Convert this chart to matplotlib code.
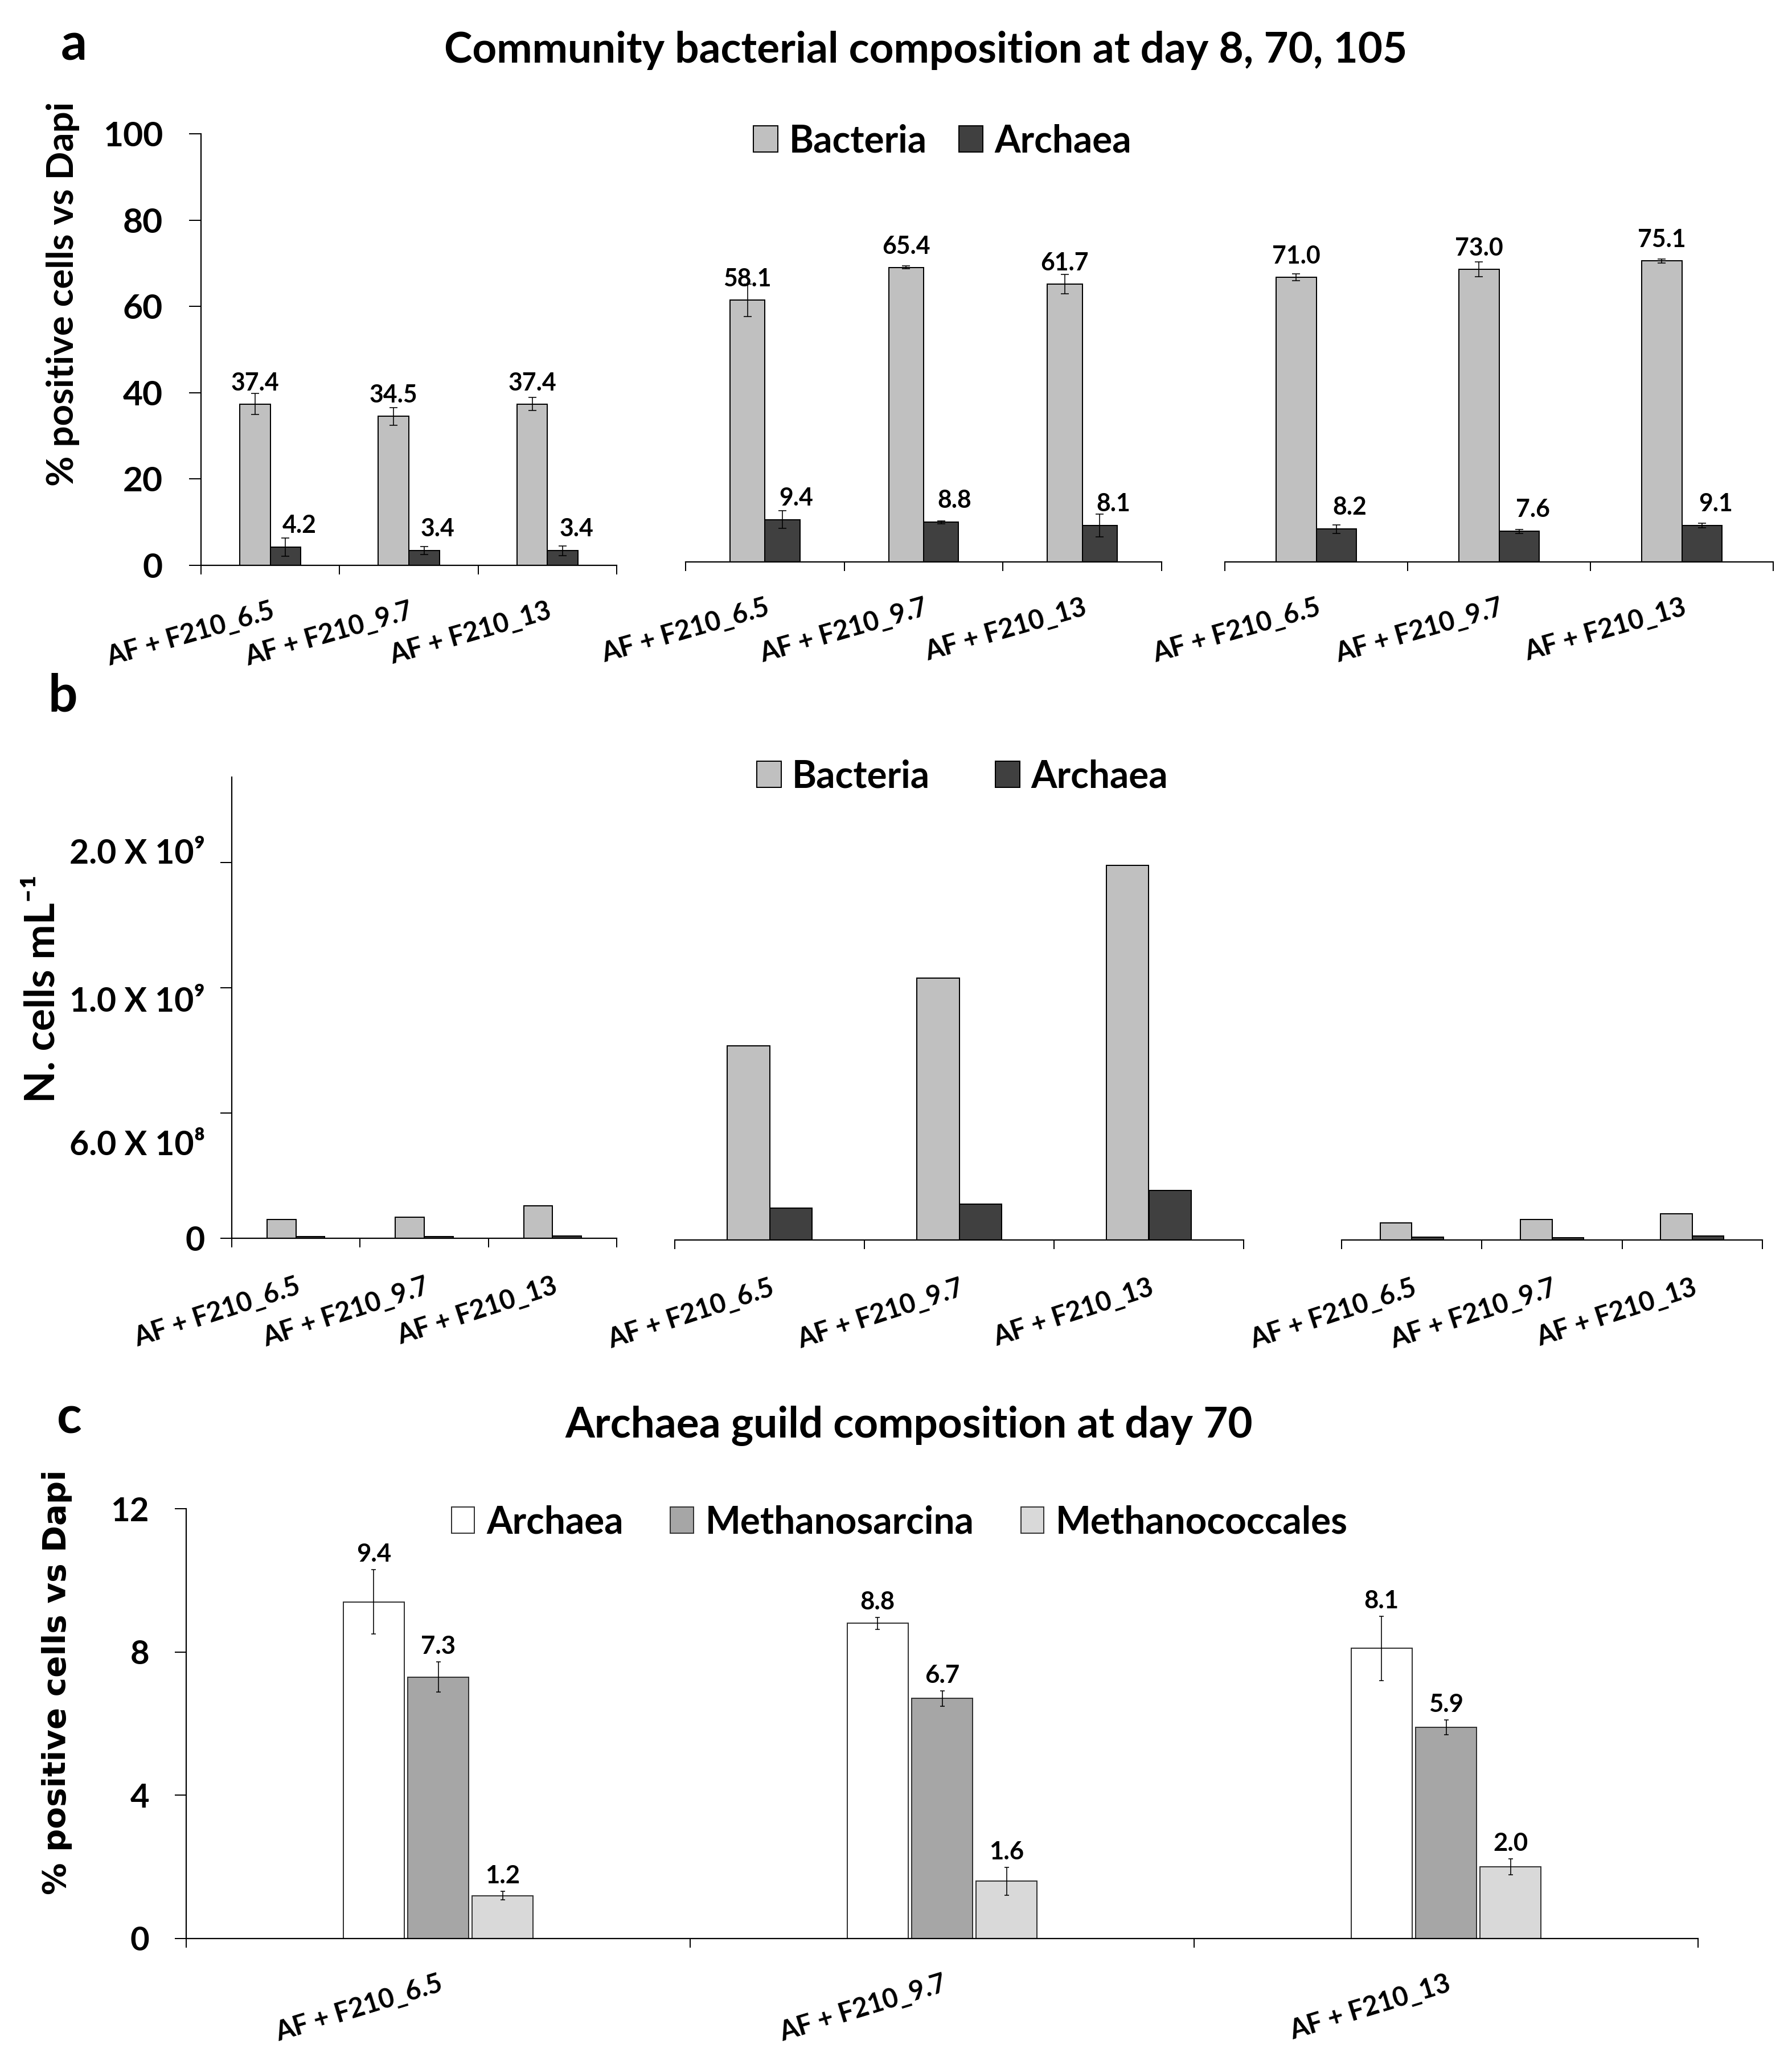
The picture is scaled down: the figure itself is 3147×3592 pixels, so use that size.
import matplotlib
matplotlib.use('Agg')
import matplotlib.pyplot as plt
import numpy as np
from matplotlib.patches import Patch
from matplotlib.transforms import ScaledTranslation

# ---------------- data ----------------
categories = ['AF + F210_6.5', 'AF + F210_9.7', 'AF + F210_13']

# panel a: % positive cells vs DAPI (day 8, 70, 105)
bact_d8 = [37.4, 34.5, 37.4]
bact_d70 = [58.1, 65.4, 61.7]
bact_d105 = [71.0, 73.0, 75.1]
arch_d8 = [4.2, 3.4, 3.4]
arch_d70 = [9.4, 8.8, 8.1]
arch_d105 = [8.2, 7.6, 9.1]
bact_err_d8 = [2.5, 2.0, 1.5]
bact_err_d70 = [3.6, 0.3, 2.2]
bact_err_d105 = [0.9, 1.9, 0.5]
arch_err_d8 = [2.1, 0.9, 1.1]
arch_err_d70 = [2.0, 0.3, 2.5]
arch_err_d105 = [1.1, 0.5, 0.6]

# panel b: N. cells per mL
bact_cells_d8 = [7.5e7, 8.4e7, 1.3e8]
bact_cells_d70 = [7.75e8, 1.045e9, 1.495e9]
bact_cells_d105 = [6.8e7, 8.2e7, 1.05e8]
arch_cells_d8 = [7e6, 7e6, 9e6]
arch_cells_d70 = [1.27e8, 1.43e8, 1.98e8]
arch_cells_d105 = [1.1e7, 9e6, 1.6e7]
cells_ticks = [0, 5e8, 1e9, 1.5e9]
cells_ticklabels = ['0', '6.0 X 10\u2078', '1.0 X 10\u2079', '2.0 X 10\u2079']

# panel c: archaea guild composition at day 70
guild_archaea = [9.4, 8.8, 8.1]
guild_msarcina = [7.3, 6.7, 5.9]
guild_mcoccales = [1.2, 1.6, 2.0]
guild_archaea_err = [0.9, 0.17, 0.9]
guild_msarcina_err = [0.42, 0.22, 0.21]
guild_mcoccales_err = [0.12, 0.39, 0.22]

# ---------------- style ----------------
W, H, DPI = 3147, 3592, 100
PT = 72.0 / DPI
BACT_C, ARCH_C = '#C0C0C0', '#404040'
C_ARCH, C_MSAR, C_MCOC = '#FFFFFF', '#A6A6A6', '#D9D9D9'
FAM = ['Lato', 'DejaVu Sans']
DJ = ['DejaVu Sans']

plt.rcParams['font.family'] = FAM
plt.rcParams['font.weight'] = 'bold'

fig = plt.figure(figsize=(W / DPI, H / DPI), dpi=DPI)
renderer = fig.canvas.get_renderer()


def fit(s, target, family=FAM, base=40.0):
    t = fig.text(0.5, 0.5, s, fontsize=base, family=list(family), fontweight='bold')
    w = t.get_window_extent(renderer=renderer).width
    t.remove()
    return base * target / w


def px_axes(left, right, bottom, top):
    return fig.add_axes([left / W, 1 - bottom / H, (right - left) / W, (bottom - top) / H])


fs_title = fit('Community bacterial composition at day 8, 70, 105', 1690)
fs_leg = fit('Archaea', 240)
fs_xt = fit('AF + F210_6.5', 290) * 1.05
fs_yt_a = fit('100', 100) * 1.05
fs_yt_b = fit('2.0 X 10', 202) * 1.08
fs_yt_c = fit('12', 64) * 1.05
fs_val_a = fit('37.4', 79) * 1.07
fs_val_c = fit('9.4', 57) * 1.07
fs_ylab_a = fit('% positive cells vs Dapi', 648) * 1.04
fs_ylab_b = fs_ylab_a * 1.12
fs_ylab_c = fit('% positive cells vs Dapi', 654, DJ) * 1.14
fs_letter = fit('a', 46)

x = np.arange(len(categories))


def style_axes(ax, rot, show_left, xpad):
    for s in ['top', 'right']:
        ax.spines[s].set_visible(False)
    ax.spines['left'].set_visible(show_left)
    for s in ['left', 'bottom']:
        ax.spines[s].set_linewidth(2.2 * PT)
    ax.set_xticks(x, categories, rotation=rot, ha='right', va='top',
                  rotation_mode='anchor', fontsize=fs_xt, fontweight='bold')
    ax.tick_params(axis='x', which='major', length=0, pad=xpad * PT)
    ax.set_xticks(np.arange(-0.5, len(categories) + 0.5, 1.0), minor=True)
    ax.tick_params(axis='x', which='minor', length=16 * PT, width=2 * PT, direction='out')
    if not show_left:
        ax.tick_params(axis='y', left=False, labelleft=False)


def pair(ax, b, a, w, be=None, ae=None, labels=False, cap=5):
    ekw = dict(elinewidth=1.6 * PT, capthick=1.6 * PT, ecolor='black')
    ax.bar(x - w / 2, b, w, color=BACT_C, edgecolor='black', linewidth=2 * PT,
           yerr=be, capsize=cap, error_kw=ekw, zorder=2)
    ax.bar(x + w / 2, a, w, color=ARCH_C, edgecolor='black', linewidth=2 * PT,
           yerr=ae, capsize=cap, error_kw=ekw, zorder=2)
    if labels:
        for xi, v in zip(x - w / 2, b):
            ax.annotate(f'{v:.1f}', (xi, v), xytext=(0, 37 * PT), textcoords='offset points',
                        ha='center', va='center', fontsize=fs_val_a, fontweight='bold')
        for xi, v in zip(x + w / 2, a):
            ax.annotate(f'{v:.1f}', (xi, v), xytext=(24 * PT, 38 * PT), textcoords='offset points',
                        ha='center', va='center', fontsize=fs_val_a, fontweight='bold')


# ---------------- panel a ----------------
wa = 0.22
a1 = px_axes(353, 1083, 993, 235)
a2 = px_axes(1204, 2040, 987, 987 - 791)
a3 = px_axes(2151, 3114, 987, 987 - 704)
for ax, b, a, be, ae, xr in [(a1, bact_d8, arch_d8, bact_err_d8, arch_err_d8, 2.308),
                             (a2, bact_d70, arch_d70, bact_err_d70, arch_err_d70, 2.353),
                             (a3, bact_d105, arch_d105, bact_err_d105, arch_err_d105, 2.5)]:
    pair(ax, b, a, wa, be, ae, labels=True, cap=7 * PT)
    ax.set_xlim(-0.5, xr)
    ax.set_ylim(0, 100)
    style_axes(ax, 16, ax is a1, 58)
a1.set_yticks([0, 20, 40, 60, 80, 100], ['0', '20', '40', '60', '80', '100'],
              fontsize=fs_yt_a, fontweight='bold')
a1.tick_params(axis='y', length=21 * PT, width=2 * PT, pad=46 * PT)

fig.text(107 / W, 1 - 106 / H, 'a', fontsize=fs_letter, fontweight='bold', ha='left', va='baseline')
fig.text(1626 / W, 1 - 110 / H, 'Community bacterial composition at day 8, 70, 105',
         fontsize=fs_title, fontweight='bold', ha='center', va='baseline')
fig.text(111 / W, 1 - 516 / H, '% positive cells vs Dapi', fontsize=fs_ylab_a,
         fontweight='bold', rotation=90, ha='center', va='center')
hb = [Patch(facecolor=BACT_C, edgecolor='black', linewidth=2 * PT),
      Patch(facecolor=ARCH_C, edgecolor='black', linewidth=2 * PT)]
fig.legend(hb, ['Bacteria', 'Archaea'], loc='center', bbox_to_anchor=(1655 / W, 1 - 248 / H),
           ncol=2, frameon=False, handlelength=0.65, handleheight=0.7,
           handletextpad=0.3, columnspacing=0.85, prop=dict(weight='bold', size=fs_leg))

# ---------------- panel b ----------------
wb = 0.225
ytop_b = (2175 - 1365) / 220 * 5e8
b1 = px_axes(407, 1083, 2175, 1365)
b2 = px_axes(1185, 2184, 2178, 1368)
b3 = px_axes(2356, 3095, 2178, 1368)
for ax, b, a, xr in [(b1, bact_cells_d8, arch_cells_d8, 2.389),
                     (b2, bact_cells_d70, arch_cells_d70, 2.404),
                     (b3, bact_cells_d105, arch_cells_d105, 2.5)]:
    pair(ax, b, a, wb)
    ax.set_xlim(-0.5, xr)
    ax.set_ylim(0, ytop_b)
    style_axes(ax, 18, ax is b1, 62)
b1.set_yticks(cells_ticks, cells_ticklabels, fontsize=fs_yt_b, fontweight='bold')
b1.tick_params(axis='y', length=20 * PT, width=2 * PT, pad=27 * PT)
for lab, dy in zip(b1.get_yticklabels(), [0, 52, 20, -20]):
    lab.set_transform(lab.get_transform() + ScaledTranslation(0, -dy / DPI, fig.dpi_scale_trans))

fig.text(84 / W, 1 - 1250 / H, 'b', fontsize=fs_letter, fontweight='bold', ha='left', va='baseline')
fig.text(75 / W, 1 - 1737 / H, 'N. cells mL\u207b\u00b9', fontsize=fs_ylab_b,
         fontweight='bold', rotation=90, ha='center', va='center')
fig.legend(hb, ['Bacteria', 'Archaea'], loc='center', bbox_to_anchor=(1690 / W, 1 - 1364 / H),
           ncol=2, frameon=False, handlelength=0.65, handleheight=0.7,
           handletextpad=0.3, columnspacing=1.75, prop=dict(weight='bold', size=fs_leg))

# ---------------- panel c ----------------
wc = 0.121
offs = [-0.128, 0.0, 0.128]
c1 = px_axes(327, 2982, 3405, 2650)
ekc = dict(elinewidth=1.6 * PT, capthick=1.6 * PT, ecolor='black')
series_c = [(guild_archaea, guild_archaea_err, C_ARCH, 'Archaea'),
            (guild_msarcina, guild_msarcina_err, C_MSAR, 'Methanosarcina'),
            (guild_mcoccales, guild_mcoccales_err, C_MCOC, 'Methanococcales')]
for off, (vals, errs, col, name) in zip(offs, series_c):
    c1.bar(x + off, vals, wc, color=col, edgecolor='#333333', linewidth=2 * PT,
           yerr=errs, capsize=4 * PT, error_kw=ekc, zorder=2, label=name)
    for xi, v, e in zip(x + off, vals, errs):
        c1.annotate(f'{v:.1f}', (xi, v + e), xytext=(0, 27 * PT), textcoords='offset points',
                    ha='center', va='center', fontsize=fs_val_c, fontweight='bold')
c1.set_xlim(-0.5, 2.5)
c1.set_ylim(0, 12)
style_axes(c1, 17, True, 57)
c1.set_yticks([0, 4, 8, 12], ['0', '4', '8', '12'], fontsize=fs_yt_c, fontweight='bold')
c1.tick_params(axis='y', length=20 * PT, width=2 * PT, pad=45 * PT)

fig.text(100 / W, 1 - 2518 / H, 'c', fontsize=fs_letter, fontweight='bold', ha='left', va='baseline')
fig.text(1596 / W, 1 - 2525 / H, 'Archaea guild composition at day 70',
         fontsize=fs_title, fontweight='bold', ha='center', va='baseline')
fig.text(100 / W, 1 - 2955 / H, '% positive cells vs Dapi', fontsize=fs_ylab_c,
         fontweight='bold', rotation=90, ha='center', va='center', family=DJ)
hc = [Patch(facecolor=col, edgecolor='#333333', linewidth=2 * PT) for _, _, col, _ in series_c]
fig.legend(hc, [n for *_, n in series_c], loc='center', bbox_to_anchor=(1580 / W, 1 - 2674 / H),
           ncol=3, frameon=False, handlelength=0.62, handleheight=0.7,
           handletextpad=0.32, columnspacing=1.25, prop=dict(weight='bold', size=fs_leg))

fig.savefig('out.png', dpi=DPI, facecolor='white')
